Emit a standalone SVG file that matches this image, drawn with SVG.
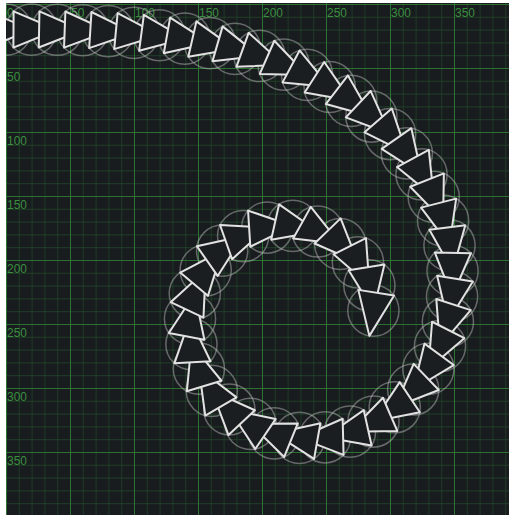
<svg xmlns="http://www.w3.org/2000/svg" xmlns:xlink="http://www.w3.org/1999/xlink" width="509" height="515" viewBox="0 0 509 515">
<style>
.lbl{font-family:"Liberation Sans",Arial,sans-serif;font-size:12px;fill:#3a8e3f}
.c{fill:none;stroke:#c4c4c4;stroke-opacity:0.45;stroke-width:1.5}
.t{fill:#1b1e20;stroke:#e2e2e2;stroke-width:2;stroke-linejoin:round}
</style>
<defs>
<pattern id="minor" x="6" y="4" width="12.8" height="12.8" patternUnits="userSpaceOnUse">
<path d="M0,0V12.8M0,0H12.8" fill="none" stroke="#21492a" stroke-width="1.3"/>
</pattern>
<pattern id="major" x="6" y="4" width="64" height="64" patternUnits="userSpaceOnUse">
<path d="M0,0V64M0,0H64" fill="none" stroke="#2f7f35" stroke-width="1.6"/>
</pattern>
<clipPath id="cv"><rect x="6" y="3" width="503" height="512"/></clipPath>
<circle id="ci" r="25.6" class="c"/>
<polygon id="tr" class="t" points="25.6,0 -18.1,-18.1 -18.1,18.1"/>
</defs>
<rect width="509" height="515" fill="#ffffff"/>
<g id="canvas" clip-path="url(#cv)">
<rect x="6" y="3" width="503" height="512" fill="#191c1e"/>
<rect x="6" y="3" width="503" height="512" fill="url(#minor)"/>
<rect x="6" y="3" width="503" height="512" fill="url(#major)"/>
<g id="labels">
<text class="lbl" x="7" y="17">0</text>
<text class="lbl" x="71" y="17">50</text>
<text class="lbl" x="135" y="17">100</text>
<text class="lbl" x="199" y="17">150</text>
<text class="lbl" x="263" y="17">200</text>
<text class="lbl" x="327" y="17">250</text>
<text class="lbl" x="391" y="17">300</text>
<text class="lbl" x="455" y="17">350</text>
<text class="lbl" x="7" y="81">50</text>
<text class="lbl" x="7" y="145">100</text>
<text class="lbl" x="7" y="209">150</text>
<text class="lbl" x="7" y="273">200</text>
<text class="lbl" x="7" y="337">250</text>
<text class="lbl" x="7" y="401">300</text>
<text class="lbl" x="7" y="465">350</text>
</g>
<g id="circles">
<use xlink:href="#ci" x="6" y="29.6"/>
<use xlink:href="#ci" x="31.6" y="29.6"/>
<use xlink:href="#ci" x="57.2" y="29.76"/>
<use xlink:href="#ci" x="82.8" y="30.24"/>
<use xlink:href="#ci" x="108.38" y="31.21"/>
<use xlink:href="#ci" x="133.93" y="32.82"/>
<use xlink:href="#ci" x="159.42" y="35.23"/>
<use xlink:href="#ci" x="184.8" y="38.6"/>
<use xlink:href="#ci" x="210" y="43.08"/>
<use xlink:href="#ci" x="234.95" y="48.82"/>
<use xlink:href="#ci" x="259.53" y="55.96"/>
<use xlink:href="#ci" x="283.62" y="64.63"/>
<use xlink:href="#ci" x="307.05" y="74.94"/>
<use xlink:href="#ci" x="329.64" y="86.99"/>
<use xlink:href="#ci" x="351.17" y="100.84"/>
<use xlink:href="#ci" x="371.4" y="116.53"/>
<use xlink:href="#ci" x="390.06" y="134.05"/>
<use xlink:href="#ci" x="406.86" y="153.37"/>
<use xlink:href="#ci" x="421.51" y="174.36"/>
<use xlink:href="#ci" x="433.7" y="196.87"/>
<use xlink:href="#ci" x="443.12" y="220.67"/>
<use xlink:href="#ci" x="449.49" y="245.47"/>
<use xlink:href="#ci" x="452.54" y="270.89"/>
<use xlink:href="#ci" x="452.06" y="296.48"/>
<use xlink:href="#ci" x="447.9" y="321.74"/>
<use xlink:href="#ci" x="439.99" y="346.09"/>
<use xlink:href="#ci" x="428.37" y="368.9"/>
<use xlink:href="#ci" x="413.19" y="389.51"/>
<use xlink:href="#ci" x="394.75" y="407.27"/>
<use xlink:href="#ci" x="373.49" y="421.53"/>
<use xlink:href="#ci" x="349.99" y="431.7"/>
<use xlink:href="#ci" x="325.01" y="437.28"/>
<use xlink:href="#ci" x="299.42" y="437.92"/>
<use xlink:href="#ci" x="274.21" y="433.44"/>
<use xlink:href="#ci" x="250.47" y="423.87"/>
<use xlink:href="#ci" x="229.3" y="409.48"/>
<use xlink:href="#ci" x="211.78" y="390.82"/>
<use xlink:href="#ci" x="198.89" y="368.7"/>
<use xlink:href="#ci" x="191.44" y="344.21"/>
<use xlink:href="#ci" x="189.99" y="318.65"/>
<use xlink:href="#ci" x="194.79" y="293.5"/>
<use xlink:href="#ci" x="205.69" y="270.34"/>
<use xlink:href="#ci" x="222.13" y="250.72"/>
<use xlink:href="#ci" x="243.12" y="236.06"/>
<use xlink:href="#ci" x="267.26" y="227.54"/>
<use xlink:href="#ci" x="292.81" y="225.93"/>
<use xlink:href="#ci" x="317.79" y="231.51"/>
<use xlink:href="#ci" x="340.15" y="243.98"/>
<use xlink:href="#ci" x="357.9" y="262.42"/>
<use xlink:href="#ci" x="369.38" y="285.3"/>
<use xlink:href="#ci" x="373.38" y="310.59"/>
</g>
<g id="triangles">
<use xlink:href="#tr" transform="translate(6,29.6) rotate(0)"/>
<use xlink:href="#tr" transform="translate(31.6,29.6) rotate(0.36)"/>
<use xlink:href="#tr" transform="translate(57.2,29.76) rotate(1.08)"/>
<use xlink:href="#tr" transform="translate(82.8,30.24) rotate(2.16)"/>
<use xlink:href="#tr" transform="translate(108.38,31.21) rotate(3.6)"/>
<use xlink:href="#tr" transform="translate(133.93,32.82) rotate(5.4)"/>
<use xlink:href="#tr" transform="translate(159.42,35.23) rotate(7.56)"/>
<use xlink:href="#tr" transform="translate(184.8,38.6) rotate(10.08)"/>
<use xlink:href="#tr" transform="translate(210,43.08) rotate(12.96)"/>
<use xlink:href="#tr" transform="translate(234.95,48.82) rotate(16.2)"/>
<use xlink:href="#tr" transform="translate(259.53,55.96) rotate(19.8)"/>
<use xlink:href="#tr" transform="translate(283.62,64.63) rotate(23.76)"/>
<use xlink:href="#tr" transform="translate(307.05,74.94) rotate(28.08)"/>
<use xlink:href="#tr" transform="translate(329.64,86.99) rotate(32.76)"/>
<use xlink:href="#tr" transform="translate(351.17,100.84) rotate(37.8)"/>
<use xlink:href="#tr" transform="translate(371.4,116.53) rotate(43.2)"/>
<use xlink:href="#tr" transform="translate(390.06,134.05) rotate(48.96)"/>
<use xlink:href="#tr" transform="translate(406.86,153.37) rotate(55.08)"/>
<use xlink:href="#tr" transform="translate(421.51,174.36) rotate(61.56)"/>
<use xlink:href="#tr" transform="translate(433.7,196.87) rotate(68.4)"/>
<use xlink:href="#tr" transform="translate(443.12,220.67) rotate(75.6)"/>
<use xlink:href="#tr" transform="translate(449.49,245.47) rotate(83.16)"/>
<use xlink:href="#tr" transform="translate(452.54,270.89) rotate(91.08)"/>
<use xlink:href="#tr" transform="translate(452.06,296.48) rotate(99.36)"/>
<use xlink:href="#tr" transform="translate(447.9,321.74) rotate(108)"/>
<use xlink:href="#tr" transform="translate(439.99,346.09) rotate(117)"/>
<use xlink:href="#tr" transform="translate(428.37,368.9) rotate(126.36)"/>
<use xlink:href="#tr" transform="translate(413.19,389.51) rotate(136.08)"/>
<use xlink:href="#tr" transform="translate(394.75,407.27) rotate(146.16)"/>
<use xlink:href="#tr" transform="translate(373.49,421.53) rotate(156.6)"/>
<use xlink:href="#tr" transform="translate(349.99,431.7) rotate(167.4)"/>
<use xlink:href="#tr" transform="translate(325.01,437.28) rotate(178.56)"/>
<use xlink:href="#tr" transform="translate(299.42,437.92) rotate(190.08)"/>
<use xlink:href="#tr" transform="translate(274.21,433.44) rotate(201.96)"/>
<use xlink:href="#tr" transform="translate(250.47,423.87) rotate(214.2)"/>
<use xlink:href="#tr" transform="translate(229.3,409.48) rotate(226.8)"/>
<use xlink:href="#tr" transform="translate(211.78,390.82) rotate(239.76)"/>
<use xlink:href="#tr" transform="translate(198.89,368.7) rotate(253.08)"/>
<use xlink:href="#tr" transform="translate(191.44,344.21) rotate(266.76)"/>
<use xlink:href="#tr" transform="translate(189.99,318.65) rotate(280.8)"/>
<use xlink:href="#tr" transform="translate(194.79,293.5) rotate(295.2)"/>
<use xlink:href="#tr" transform="translate(205.69,270.34) rotate(309.96)"/>
<use xlink:href="#tr" transform="translate(222.13,250.72) rotate(325.08)"/>
<use xlink:href="#tr" transform="translate(243.12,236.06) rotate(340.56)"/>
<use xlink:href="#tr" transform="translate(267.26,227.54) rotate(356.4)"/>
<use xlink:href="#tr" transform="translate(292.81,225.93) rotate(372.6)"/>
<use xlink:href="#tr" transform="translate(317.79,231.51) rotate(389.16)"/>
<use xlink:href="#tr" transform="translate(340.15,243.98) rotate(406.08)"/>
<use xlink:href="#tr" transform="translate(357.9,262.42) rotate(423.36)"/>
<use xlink:href="#tr" transform="translate(369.38,285.3) rotate(441)"/>
<use xlink:href="#tr" transform="translate(373.38,310.59) rotate(459)"/>
</g>
</g>
</svg>
